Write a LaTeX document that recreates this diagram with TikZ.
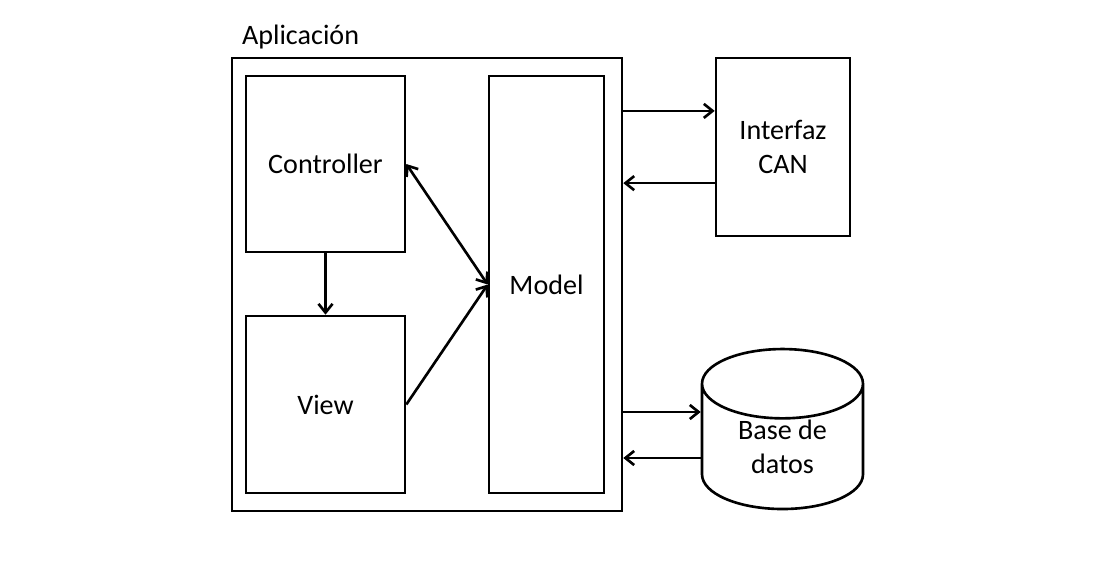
\documentclass[tikz,border=0pt]{standalone}
\usepackage{fontspec}
\setmainfont{Carlito}
\usetikzlibrary{shapes.geometric,arrows.meta,calc}

\begin{document}
\begin{tikzpicture}[
	x=0.02cm, y=-0.02cm,
	>={Straight Barb[length=5pt,width=8pt,line width=1.5pt]},
	every node/.style={ font=\fontsize{16}{19}\selectfont },
	block/.style={ draw, line width=1.5pt, inner sep=0pt, align=center },
	database/.style={ draw, line width=1.5pt, cylinder, shape border rotate=90, aspect=0.78, align=center, inner sep=0pt },
	link/.style={ line width=1.5pt, -> }
]
	\useasboundingbox (0,0) rectangle (1104,566);

	\node[block, minimum width=7.8cm, minimum height=9.06cm] (app) at (427,284.5) {};
	\node[anchor=base west, inner sep=0pt] (applabel) at ($(app.north west)+(11,-12)$) {Aplicación};

	\node[block, minimum width=3.18cm, minimum height=3.52cm] (controller) at (325.5,164) {Controller};
	\node[block, minimum width=3.18cm, minimum height=3.54cm] (view) at (325.5,404.5) {View};
	\node[block, minimum width=2.3cm, minimum height=8.34cm] (model) at (546.5,284.5) {Model};

	\node[block, minimum width=2.68cm, minimum height=3.56cm] (can) at (783,147) {Interfaz\\CAN};
	\node[database, minimum width=3.22cm, minimum height=3.2cm] (db) at (782.5,447) {Base de\\datos};

	% dentro de la aplicacion
	\draw[link, <->] (controller.east) -- (model.west);
	\draw[link] (view.east) -- (model.west);
	\draw[link] (controller.south) -- (view.north);

	% hacia afuera
	\coordinate (canin) at ($(can.north west)!0.3!(can.south west)$);
	\coordinate (canout) at ($(can.north west)!0.7!(can.south west)$);
	\draw[link] (app.east |- canin) -- (canin);
	\draw[link] (canout) -- (app.east |- canout);

	\coordinate (dbin) at ($(db.west)+(0,-35)$);
	\coordinate (dbout) at ($(db.west)+(0,11)$);
	\draw[link] (app.east |- dbin) -- (dbin);
	\draw[link] (dbout) -- (app.east |- dbout);

\end{tikzpicture}
\end{document}
